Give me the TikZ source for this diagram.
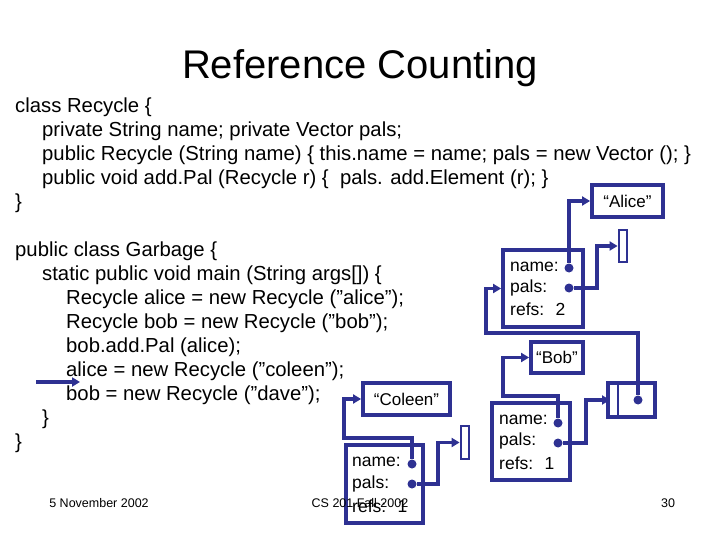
\documentclass[tikz,border=0pt]{standalone}
\usepackage{fontspec}
\setmainfont{Liberation Sans}
\usetikzlibrary{arrows.meta}
\definecolor{nv}{RGB}{46,49,146}
\newcommand{\dq}{\char34\relax}
\begin{document}
\begin{tikzpicture}[x=1pt,y=-1pt,
 code/.style={anchor=west,inner sep=0,font=\fontsize{20.3}{22}\selectfont},
 box/.style={draw=nv,line width=3.8pt,inner sep=0},
 lbl/.style={anchor=west,inner sep=0,font=\fontsize{17.5}{19}\selectfont},
 ptr/.style={draw=nv,line width=3.8pt,-{Triangle[length=8pt,width=9pt]}},
 dot/.style={circle,fill=nv,inner sep=0,minimum size=9pt},
 foot/.style={inner sep=0,font=\fontsize{12.5}{14}\selectfont}]
\useasboundingbox (0,0) rectangle (720,540);
\node[inner sep=0,font=\fontsize{40}{44}\selectfont] (title) at (360,68) {Reference Counting};
\node[code] (c1) at (15,107) {class Recycle \{};
\node[code] (c2) at (42,131) {private String name; private Vector pals;};
\node[code] (c3) at (42,155) {public Recycle (String name) \{ this.name = name; pals = new Vector (); \}};
\node[code] (c4) at (42,179) {public void add.Pal (Recycle r) \{ \ pals. add.Element (r); \}};
\node[code] (c5) at (15,203) {\}};
\node[code] (g1) at (15,251) {public class Garbage \{};
\node[code] (g2) at (42,275) {static public void main (String args[]) \{};
\node[code] (g3) at (66,299) {Recycle alice = new Recycle (\dq alice\dq);};
\node[code] (g4) at (66,323) {Recycle bob = new Recycle (\dq bob\dq);};
\node[code] (g5) at (66,347) {bob.add.Pal (alice);};
\node[code] (g6) at (66,371) {alice = new Recycle (\dq coleen\dq);};
\node[code] (g7) at (66,395) {bob = new Recycle (\dq dave\dq);};
\node[code] (g8) at (42,419) {\}};
\node[code] (g9) at (15,443) {\}};
\coordinate (as) at (36,382);
\coordinate (ae) at (80,382);
\draw[ptr] (as) -- (ae);
% Alice
\node[box,minimum width=71pt,minimum height=32pt,font=\fontsize{17}{19}\selectfont] (alice) at (627.5,201) {“Alice”};
\node[box,minimum width=80pt,minimum height=77pt] (ao) at (543,288.5) {};
\node[lbl] (aon) at (510,267) {name:};
\node[lbl] (aop) at (510,288) {pals:};
\node[lbl] (aor) at (510,309) {refs: \ 2};
\node[dot] (and) at (569,268) {};
\node[dot] (apd) at (569,288) {};
\node[draw=nv,line width=2.8pt,minimum width=8pt,minimum height=32pt,inner sep=0] (av) at (623,246) {};
\draw[ptr] (and) |- (alice.west);
\draw[ptr] (apd) -- (597,288) |- (av.west);
% Bob
\node[box,minimum width=52pt,minimum height=31pt,font=\fontsize{17}{19}\selectfont] (bob) at (557,357.5) {“Bob”};
\node[box,minimum width=78pt,minimum height=77pt] (bo) at (531,441.5) {};
\node[lbl] (bon) at (499,420) {name:};
\node[lbl] (bop) at (499,441) {pals:};
\node[lbl] (bor) at (499,463) {refs: \ 1};
\node[dot] (bnd) at (558,423) {};
\node[dot] (bpd) at (558,443) {};
\node[box,minimum width=47pt,minimum height=34pt] (bv) at (631.5,400) {};
\draw[draw=nv,line width=2.8pt] (618,385) -- (618,415);
\node[dot] (bvd) at (638,400) {};
\coordinate (bvl) at (610,400);
\draw[ptr] (bnd) -- (558,396) -- (503,396) |- (bob.west);
\draw[ptr] (bpd) -- (586,443) |- (bvl);
\draw[ptr] (bvd) -- (638,333) -- (486,333) |- (ao.west);
% Coleen
\node[box,minimum width=87pt,minimum height=32pt,font=\fontsize{17}{19}\selectfont] (col) at (406.5,399) {“Coleen”};
\node[box,minimum width=77pt,minimum height=78pt] (co) at (384.5,484) {};
\node[lbl] (con) at (352,462) {name:};
\node[lbl] (cop) at (352,484) {pals:};
\node[lbl] (cor) at (352,506) {refs: \ 1};
\node[dot] (cnd) at (412,464) {};
\node[dot] (cpd) at (412,484) {};
\node[draw=nv,line width=2.8pt,minimum width=8pt,minimum height=33pt,inner sep=0] (cv) at (465,442.5) {};
\draw[ptr] (cnd) -- (412,438) -- (344,438) |- (col.west);
\draw[ptr] (cpd) -- (438,484) |- (cv.west);
% footer
\node[foot] (f1) at (99,503) {5 November 2002};
\node[foot] (f2) at (360,503) {CS 201 Fall 2002};
\node[foot] (f3) at (668,503) {30};
\end{tikzpicture}
\end{document}
